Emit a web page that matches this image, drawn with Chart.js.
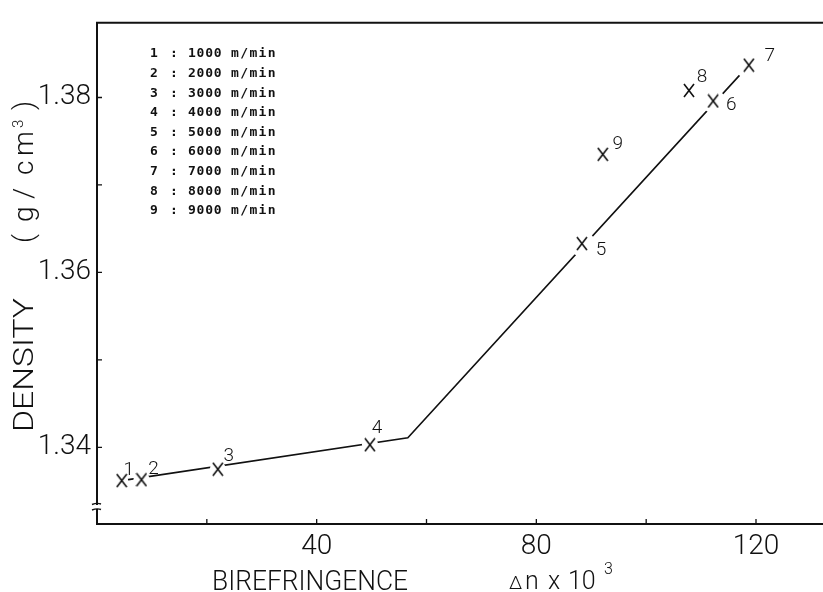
<!DOCTYPE html>
<html>
<head>
<meta charset="utf-8">
<script src="https://cdn.jsdelivr.net/npm/chart.js@4/dist/chart.umd.min.js"></script>
<style>
  html, body { margin: 0; padding: 0; background: #fff; }
  #wrap { width: 823px; height: 592px; }
</style>
</head>
<body>
<div id="wrap"><canvas id="c" width="823" height="592"></canvas></div>
<script>
// Spinning runs: birefringence (Δn x 10^3) vs density (g/cm3)
const runLabels = ['1', '2', '3', '4', '5', '6', '7', '8', '9'];
const takeUpSpeeds = [1000, 2000, 3000, 4000, 5000, 6000, 7000, 8000, 9000];
const birefringence = [4.5, 8.1, 22.0, 49.7, 88.3, 112.2, 118.7, 107.8, 92.1];
const density = [1.3362, 1.3363, 1.3375, 1.3403, 1.3633, 1.3796, 1.3837, 1.3808, 1.3735];

// Two-branch trend line through the runs
const trendX = [4.5, 56.6, 118.7];
const trendY = [1.3362, 1.3411, 1.3837];

// Axis ticks
const xTickValues = [20, 40, 60, 80, 100, 120];
const xTickLabels = ['', '40', '', '80', '', '120'];
const yTickValues = [1.34, 1.35, 1.36, 1.37, 1.38];
const yTickLabels = ['1.34', '', '1.36', '', '1.38'];

// Runs 1-7 lie on the trend line, which is broken around each marker
const onLineCount = 7;
const gapRadius = [6.5, 8, 8, 8, 13, 12, 14];

// Where each run number sits relative to its marker (px)
const labelOffset = [[7, -10], [12, -10], [11, -13], [7, -17], [19, 7], [18, 4], [21, -9], [13, -13], [15, -10]];

const LIGHT = '300';
const INK = '#111';

// X-shaped marker
function makeCross(w, h) {
  const cv = document.createElement('canvas');
  cv.width = w; cv.height = h;
  const g = cv.getContext('2d');
  g.strokeStyle = INK;
  g.lineWidth = 1.6;
  g.beginPath();
  g.moveTo(1, 1); g.lineTo(w - 1, h - 1);
  g.moveTo(w - 1, 1); g.lineTo(1, h - 1);
  g.stroke();
  return cv;
}
const crossImg = makeCross(12, 15);

const pts = birefringence.map((x, i) => ({ x, y: density[i] }));
const trend = trendX.map((x, i) => ({ x, y: trendY[i] }));

function fitText(ctx, text, x, y, targetW) {
  const w = ctx.measureText(text).width;
  ctx.save();
  ctx.translate(x, y);
  ctx.scale(targetW / w, 1);
  ctx.fillText(text, 0, 0);
  ctx.restore();
}

const decor = {
  id: 'decor',
  afterDatasetsDraw(chart) {
    const ctx = chart.ctx;
    const xs = chart.scales.x, ys = chart.scales.y;
    const a = chart.chartArea;
    ctx.save();
    ctx.fillStyle = INK;
    ctx.strokeStyle = INK;

    // top frame line
    ctx.lineWidth = 2;
    ctx.beginPath();
    ctx.moveTo(a.left - 1, a.top);
    ctx.lineTo(a.right, a.top);
    ctx.stroke();

    // inward tick marks
    ctx.lineWidth = 1.3;
    ctx.beginPath();
    xs.ticks.forEach(t => {
      const px = xs.getPixelForValue(t.value);
      ctx.moveTo(px, a.bottom); ctx.lineTo(px, a.bottom - 5);
    });
    ys.ticks.forEach(t => {
      const py = ys.getPixelForValue(t.value);
      ctx.moveTo(a.left, py); ctx.lineTo(a.left + 5, py);
    });
    ctx.stroke();

    // axis break near the foot of the density axis
    const by = a.bottom - 17;
    ctx.fillStyle = '#fff';
    ctx.fillRect(a.left - 3, by - 2, 6, 4);
    ctx.fillStyle = INK;
    ctx.lineWidth = 1.4;
    ctx.beginPath();
    ctx.moveTo(a.left - 5, by - 2.5); ctx.quadraticCurveTo(a.left, by - 4.5, a.left + 4, by - 3);
    ctx.moveTo(a.left - 5, by + 3); ctx.quadraticCurveTo(a.left, by + 1, a.left + 4, by + 2.5);
    ctx.stroke();

    // run numbers beside markers
    ctx.font = LIGHT + ' 19px Roboto';
    ctx.textAlign = 'center';
    ctx.textBaseline = 'middle';
    runLabels.forEach((lab, i) => {
      const px = xs.getPixelForValue(birefringence[i]);
      const py = ys.getPixelForValue(density[i]);
      ctx.fillText(lab, px + labelOffset[i][0], py + labelOffset[i][1]);
    });

    // speed key
    ctx.font = 'bold 13px "DejaVu Sans Mono"';
    ctx.textAlign = 'left';
    ctx.textBaseline = 'middle';
    takeUpSpeeds.forEach((s, i) => {
      const y = 54 + i * 19.6;
      ctx.fillText(runLabels[i], 150, y);
      ctx.fillText(':', 170, y);
      const digits = String(s);
      for (let k = 0; k < digits.length; k++) ctx.fillText(digits[k], 188 + k * 8.6, y);
      const unit = 'm/min';
      for (let k = 0; k < unit.length; k++) ctx.fillText(unit[k], 231 + k * 9.2, y);
    });

    // axis titles
    ctx.font = LIGHT + ' 28px Roboto';
    ctx.textBaseline = 'alphabetic';
    ctx.textAlign = 'left';
    fitText(ctx, 'BIREFRINGENCE', 212, 590, 196);

    // Δn x 10^3
    ctx.font = LIGHT + ' 19px Roboto';
    ctx.fillText('\u0394', 509, 589);
    ctx.font = LIGHT + ' 25px Roboto';
    ctx.fillText('n', 525, 589);
    ctx.fillText('x', 548, 589);
    ctx.fillText('10', 568, 589);
    ctx.font = LIGHT + ' 16px Roboto';
    ctx.fillText('3', 604, 574);

    // vertical title: DENSITY  ( g/cm3 )
    ctx.save();
    ctx.translate(33, 0);
    ctx.rotate(-Math.PI / 2);
    ctx.font = LIGHT + ' 28px Roboto';
    fitText(ctx, 'DENSITY', -432, 0, 134);
    const parts = [['(', -243], ['g', -222], ['/', -199], ['c', -175], ['m', -156], [')', -110]];
    parts.forEach(p => ctx.fillText(p[0], p[1], 0));
    ctx.font = LIGHT + ' 15px Roboto';
    ctx.fillText('3', -128, -10);
    ctx.restore();

    ctx.restore();
  }
};

new Chart(document.getElementById('c'), {
  type: 'scatter',
  data: {
    datasets: [
      {
        // X markers
        data: pts,
        pointStyle: crossImg,
        pointRadius: 7,
        showLine: false,
        order: 0
      },
      {
        // white breaks in the trend line around markers
        data: pts.slice(0, onLineCount),
        pointStyle: 'circle',
        pointRadius: gapRadius,
        pointBackgroundColor: '#fff',
        pointBorderWidth: 0,
        pointBorderColor: '#fff',
        showLine: false,
        order: 1
      },
      {
        data: trend,
        showLine: true,
        borderColor: INK,
        borderWidth: 1.6,
        pointRadius: 0,
        fill: false,
        order: 2
      }
    ]
  },
  options: {
    responsive: false,
    animation: false,
    events: [],
    layout: { autoPadding: false, padding: { top: 14, right: 0, left: 0, bottom: 0 } },
    plugins: { legend: { display: false }, tooltip: { enabled: false }, title: { display: false } },
    scales: {
      x: {
        type: 'linear',
        min: 0,
        max: 132.2,
        afterBuildTicks: s => { s.ticks = xTickValues.map(v => ({ value: v })); },
        afterFit: s => { s.height = 68; },
        grid: { display: false, drawTicks: false },
        border: { display: true, color: INK, width: 2 },
        ticks: {
          autoSkip: false,
          maxRotation: 0,
          padding: 6,
          color: INK,
          font: { family: 'Roboto', size: 28, weight: LIGHT },
          callback: (v) => { const i = xTickValues.indexOf(v); return i >= 0 ? xTickLabels[i] : ''; }
        }
      },
      y: {
        type: 'linear',
        min: 1.33124,
        max: 1.38854,
        afterBuildTicks: s => { s.ticks = yTickValues.map(v => ({ value: v })); },
        afterFit: s => { s.width = 97; },
        grid: { display: false, drawTicks: false },
        border: { display: true, color: INK, width: 2 },
        ticks: {
          autoSkip: false,
          padding: 6,
          color: INK,
          font: { family: 'Roboto', size: 28, weight: LIGHT },
          callback: (v) => { const i = yTickValues.indexOf(v); return i >= 0 ? yTickLabels[i] : ''; }
        }
      }
    }
  },
  plugins: [decor]
});
</script>
</body>
</html>
